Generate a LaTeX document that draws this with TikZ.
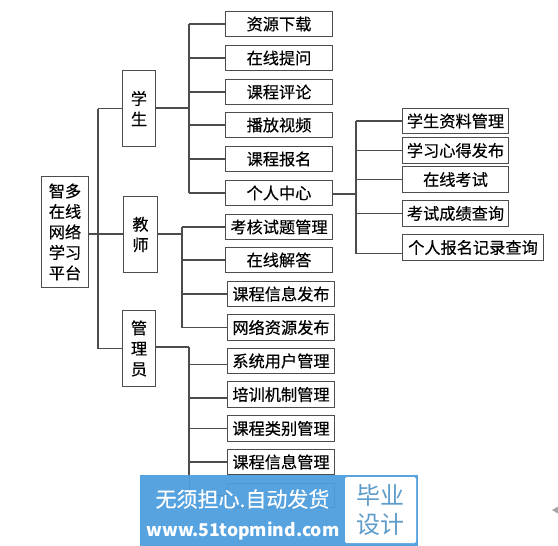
\documentclass[tikz,border=0pt]{standalone}
\usepackage{fontspec}
\setmainfont{Noto Sans CJK SC}
\newfontfamily\boxfont[FakeBold=0.35]{Noto Sans CJK SC}
\definecolor{linegray}{gray}{0.3}
\definecolor{bannerblue}{HTML}{56A3E0}
\definecolor{bannerlineblue}{HTML}{4E97CF}
\definecolor{bannerinkblue}{HTML}{5E9CC9}
\tikzset{
  box/.style={draw=linegray,line width=1.1pt,fill=white,inner sep=0pt,outer sep=0pt,anchor=north west,align=center,font=\boxfont\fontsize{16.2}{20.5}\selectfont},
  link/.style={draw=linegray,line width=1.1pt}
}
\newcommand{\bx}[6]{\node[box,minimum width=#4 pt-#2 pt,minimum height=#5 pt-#3 pt] (#1) at (#2+0.5,#3+0.5) {#6};}
\begin{document}
\begin{tikzpicture}[x=1pt,y=-1pt]
\useasboundingbox (0,0) rectangle (558,546);
\fill[white] (0,0) rectangle (558,546);
% main boxes
\bx{root}{41}{176}{88}{287}{智多\\在线\\网络\\学习\\平台}
\bx{st}{122}{70}{155}{146}{学\\生}
\bx{te}{123}{196}{157}{272}{教\\师}
\bx{ad}{122}{310}{155}{386}{管\\理\\员}
% student
\bx{a1}{225}{11}{332}{36}{资源下载}
\bx{a2}{225}{45}{332}{70}{在线提问}
\bx{a3}{225}{79}{332}{104}{课程评论}
\bx{a4}{225}{112}{332}{137}{播放视频}
\bx{a5}{225}{146}{332}{171}{课程报名}
\bx{a6}{225}{180}{332}{205}{个人中心}
% teacher
\bx{b1}{225}{214}{332}{239}{考核试题管理}
\bx{b2}{225}{247}{332}{272}{在线解答}
\bx{b3}{227}{281}{334}{306}{课程信息发布}
\bx{b4}{227}{314}{334}{340}{网络资源发布}
% admin
\bx{c1}{227}{348}{334}{373}{系统用户管理}
\bx{c2}{227}{381}{334}{407}{培训机制管理}
\bx{c3}{227}{415}{334}{441}{课程类别管理}
\bx{c4}{227}{449}{334}{474}{课程信息管理}
% personal centre
\bx{d1}{402}{108}{508}{133}{学生资料管理}
\bx{d2}{402}{137}{508}{163}{学习心得发布}
\bx{d3}{402}{166}{508}{192}{在线考试}
\bx{d4}{402}{200}{508}{226}{考试成绩查询}
\bx{d5}{402}{234}{543}{260}{个人报名记录查询}
% trunks
\coordinate (rt) at (98,234);
\coordinate (stt) at (189,108);
\coordinate (tet) at (182,234);
\coordinate (adt) at (189,347);
\coordinate (dt) at (356,194);
\coordinate (adend) at (189,478);
\draw[link] (root.east |- rt) -- (te.west |- rt);
\draw[link] (rt |- st.west) -- (st.west);
\draw[link] (rt |- ad.west) -- (ad.west);
\draw[link] (rt |- st.west) -- (rt |- ad.west);
\draw[link] (st.east |- stt) -- (stt);
\draw[link] (stt |- a1.west) -- (stt |- a6.west);
\foreach \n in {a1,a2,a3,a4,a5,a6} \draw[link] (stt |- \n.west) -- (\n.west);
\draw[link] (te.east |- tet) -- (tet);
\draw[link] (tet |- b1.west) -- (tet |- b4.west);
\foreach \n in {b1,b2,b3,b4} \draw[link] (tet |- \n.west) -- (\n.west);
\draw[link] (ad.east |- adt) -- (adt);
\draw[link] (adt) -- (adend);
\foreach \n/\s in {c1/3.5,c2/3.5,c3/0,c4/0} \draw[link] ([yshift=-\s pt]adt |- \n.west) -- ([yshift=-\s pt]\n.west);
\draw[link] (a6.east |- dt) -- (dt);
\draw[link] (dt |- d1.west) -- ([yshift=-6pt]dt |- d5.west);
\foreach \n/\s in {d1/0,d2/0,d3/0,d4/0,d5/6} \draw[link] ([yshift=-\s pt]dt |- \n.west) -- ([yshift=-\s pt]\n.west);
% banner
\fill[bannerblue] (140,475) rectangle (418,546);
\draw[bannerlineblue,line width=0.6pt] (189,475) -- (189,495) -- (227,495);
\draw[bannerlineblue,line width=0.6pt] (227,483) rectangle (334,507);
\fill[white,rounded corners=1.5pt] (345,477) rectangle (416,543);
\node[text=white,font=\boxfont\fontsize{21}{24}\selectfont,inner sep=0pt] (bt) at (242.5,499) {无须担心.自动发货};
\node[text=white,font=\bfseries\fontsize{17.6}{20}\selectfont,inner sep=0pt] (bu) at (243,531) {www.51topmind.com};
\node[text=bannerinkblue,align=center,font=\fontsize{24}{29}\selectfont,inner sep=0pt] (bs) at (380.5,510) {毕业\\设计};
\fill[gray!70] (552,510) -- (558,506.5) -- (558,513.5) -- cycle;
\end{tikzpicture}
\end{document}
